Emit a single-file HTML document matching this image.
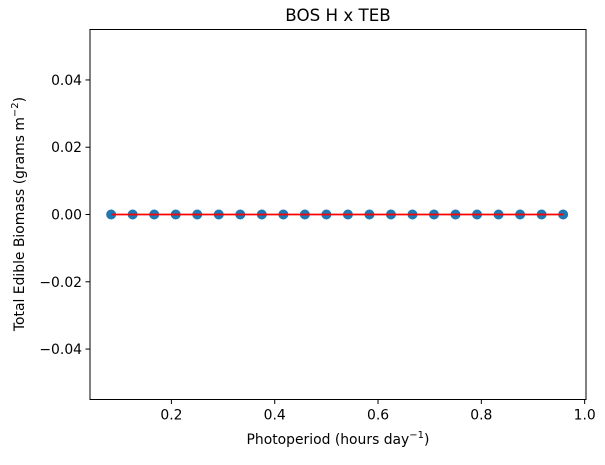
<!DOCTYPE html>
<html><head><meta charset="utf-8"><style>
body{margin:0;background:#fff;}
text{font-family:"DejaVu Sans","Liberation Sans",sans-serif;fill:#000;}
</style></head><body>
<svg id="chart" width="605" height="460" xmlns="http://www.w3.org/2000/svg">
<rect width="605" height="460" fill="#fff"/>
<text x="338" y="21" font-size="16.7" text-anchor="middle">BOS H x TEB</text>
<g id="ticks"></g>
<g id="marks"></g>
<rect x="90" y="29.5" width="496" height="370" fill="none" stroke="#000" stroke-width="1"/>
<text x="338" y="444" font-size="13.9" text-anchor="middle">Photoperiod (hours day<tspan dy="-6" font-size="10">−1</tspan><tspan dy="6">)</tspan></text>
<text transform="translate(24,214) rotate(-90)" font-size="13.9" text-anchor="middle">Total Edible Biomass (grams m<tspan dy="-6" font-size="10">−2</tspan><tspan dy="6">)</tspan></text>
</svg>
<script>
const xValues=[];
for(let h=2;h<=23;h++) xValues.push(h/24);
const yValues=[0,0,0,0,0,0,0,0,0,0,0,0,0,0,0,0,0,0,0,0,0,0];
const fitLine=[0,0];
const xTicks=[0.2,0.4,0.6,0.8,1.0];
const xTickLabels=["0.2","0.4","0.6","0.8","1.0"];
const yTicks=[0.04,0.02,0,-0.02,-0.04];
const yTickLabels=["0.04","0.02","0.00","−0.02","−0.04"];
const L=90,R=586,T=29.5,B=399.5,xmin=0.0424,xmax=1.0026,ymin=-0.055,ymax=0.055;
const X=v=>L+(v-xmin)/(xmax-xmin)*(R-L);
const Y=v=>B-(v-ymin)/(ymax-ymin)*(B-T);
const NS="http://www.w3.org/2000/svg";
function mk(tag,attrs,parent){const e=document.createElementNS(NS,tag);for(const k in attrs)e.setAttribute(k,attrs[k]);parent.appendChild(e);return e;}
const tg=document.getElementById('ticks'),mg=document.getElementById('marks');
xTicks.forEach((v,i)=>{
 const l=mk('line',{x1:X(v),x2:X(v),y1:B,y2:B+4.5,stroke:'#000'},tg);
 
 
 const t=mk('text',{x:X(v),y:B+20,'font-size':13.9,'text-anchor':'middle'},tg);t.textContent=xTickLabels[i];
 
 
});
yTicks.forEach((v,i)=>{
 const l=mk('line',{x1:L-4.5,x2:L,y1:Y(v),y2:Y(v),stroke:'#000'},tg);
 
 
 const t=mk('text',{x:L-8,y:Y(v)+5,'font-size':13.9,'text-anchor':'end'},tg);t.textContent=yTickLabels[i];
 
 
});
xValues.forEach((v,i)=>{
 const c=mk('circle',{cx:X(v),cy:Y(yValues[i]),r:5,fill:'#1f77b4'},mg);
 
 
});
const fl=mk('line',{x1:X(xValues[0]),x2:X(xValues[xValues.length-1]),y1:Y(fitLine[0]),y2:Y(fitLine[1]),stroke:'#ff0000','stroke-width':1.8},mg);


</script>
</body></html>
